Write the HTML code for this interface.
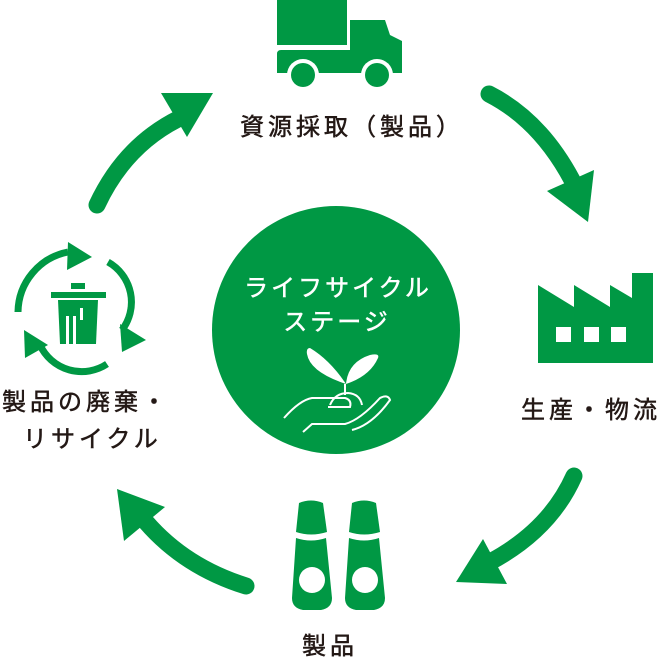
<!DOCTYPE html>
<html><head><meta charset="utf-8"><style>
html,body{margin:0;padding:0;background:#fff;}
body{width:668px;height:671px;position:relative;overflow:hidden;font-family:"Liberation Sans","Noto Sans CJK JP",sans-serif;}
.t{position:absolute;color:#231815;font-size:24px;letter-spacing:4px;white-space:nowrap;line-height:1;-webkit-text-stroke:0.5px #231815;}
</style></head><body>
<svg width="668" height="671" style="position:absolute;left:0;top:0">
<g fill="#009844" stroke="none">
<path d="M489 94 Q540 120 572 180" stroke="#009844" stroke-width="17" fill="none" stroke-linecap="round"/>
<polygon points="588,222 547,191 594,170"/>
<path d="M574 476 Q550 530 490 562" stroke="#009844" stroke-width="17" fill="none" stroke-linecap="round"/>
<polygon points="456,582 483,539 507,584"/>
<path d="M246 586 Q185 567 146 522" stroke="#009844" stroke-width="17" fill="none" stroke-linecap="round"/>
<polygon points="117,489 165,507 124,541"/>
<path d="M97 205 Q125 145 180 118" stroke="#009844" stroke-width="17" fill="none" stroke-linecap="round"/>
<polygon points="213,93 161,93 187,137"/>
<rect x="277" y="0" width="70" height="45"/>
<path d="M350 20 H385 L390 35 L402 41 V73 H277 V54 Q277 50 281 50 H350 Z"/>
<circle cx="303" cy="75" r="16" fill="#fff"/><circle cx="303" cy="75" r="12"/>
<circle cx="377" cy="75" r="16" fill="#fff"/><circle cx="377" cy="75" r="12"/>
<path d="M538 285 L574 307 V285 L610 307 V285 L632 298 V273 H653 V363 H538 Z"/>
<rect x="556" y="327" width="15" height="15" fill="#fff"/>
<rect x="584" y="327" width="15" height="15" fill="#fff"/>
<rect x="611" y="327" width="15" height="15" fill="#fff"/>
<path d="M299 503 Q311 498 323 503 L327 532 Q311 537 296 532 Z"/>
<path d="M296 538 Q311 543 326 538 L332 598 Q332 608 321 610 H303 Q292 608 292 598 Z"/>
<circle cx="312" cy="580" r="13" fill="#fff"/>
<path d="M352 503 Q364 498 376 503 L380 532 Q364 537 349 532 Z"/>
<path d="M349 538 Q364 543 379 538 L385 598 Q385 608 374 610 H356 Q345 608 345 598 Z"/>
<circle cx="365" cy="580" r="13" fill="#fff"/>
<path d="M18 312 A62 62 0 0 1 68 252" stroke="#009844" stroke-width="7" fill="none"/>
<polygon points="68,242 92,257 67,270"/>
<path d="M108 262 A46 46 0 0 1 122 330" stroke="#009844" stroke-width="7" fill="none"/>
<polygon points="120,324 146,340 122,352"/>
<path d="M107 364 A46 46 0 0 1 40 345" stroke="#009844" stroke-width="7" fill="none"/>
<polygon points="24,330 48,345 25,358"/>
<rect x="71" y="283" width="14" height="6"/>
<rect x="51" y="292" width="55" height="6"/>
<path d="M58 300 H98 L96 344 H60 Z"/>
<rect x="66" y="316" width="3" height="28" fill="#fff"/>
<rect x="73" y="316" width="3" height="28" fill="#fff"/>
<rect x="80" y="308" width="3" height="12" fill="#fff"/>
<circle cx="336" cy="330" r="124"/>
</g>
<g fill="#fff">
<path d="M346 384 Q330 360 310 348 Q306 348 307 354 Q310 372 346 384Z"/>
<path d="M346 384 Q348 362 370 355 Q380 353 378 358 Q370 376 346 384Z"/>
</g>
<g stroke="#fff" stroke-width="2" fill="none">
<path d="M345 384 V395"/>
<path d="M330 405 Q335 393 348 393 Q360 394 362 405"/>
<path d="M284 418 Q300 400 312 398 H345 Q352 400 350 407 H328"/>
<path d="M303 432 L312 424 H345 Q360 420 380 398 Q388 394 390 400 Q372 425 352 430"/>
</g>
<text x="338" y="296" font-size="24" letter-spacing="3" fill="#fff" stroke="#fff" stroke-width="0.5" text-anchor="middle" font-family="Liberation Sans, Noto Sans CJK JP, sans-serif">ライフサイクル</text>
<text x="337" y="330" font-size="24" letter-spacing="3" fill="#fff" stroke="#fff" stroke-width="0.5" text-anchor="middle" font-family="Liberation Sans, Noto Sans CJK JP, sans-serif">ステージ</text>
</svg>
<div class="t" style="left:240px;top:116px;">資源採取（製品）</div>
<div class="t" style="left:521px;top:399px;">生産・物流</div>
<div class="t" style="left:302px;top:635px;">製品</div>
<div class="t" style="left:2px;top:391px;">製品の廃棄・</div>
<div class="t" style="left:23px;top:428px;">リサイクル</div>
</body></html>
